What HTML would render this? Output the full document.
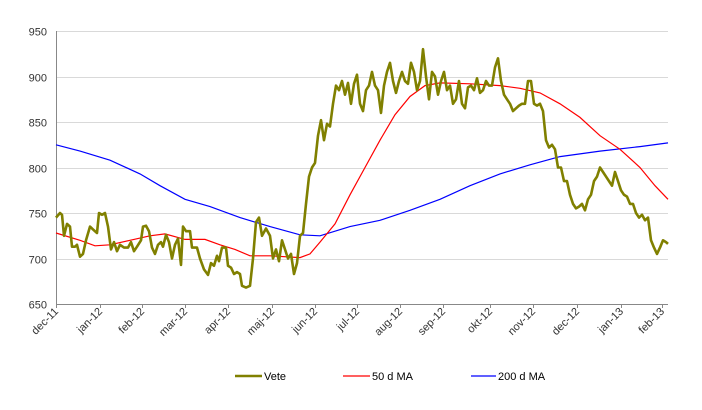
<!DOCTYPE html>
<html><head><meta charset="utf-8"><style>
body{margin:0;background:#fff;}
svg{display:block;font-family:"Liberation Sans",sans-serif;}
</style></head><body>
<svg id="s" width="702" height="410" xmlns="http://www.w3.org/2000/svg">
<g id="grid" stroke="#d9d9d9" stroke-width="1"></g>
<g id="ylab" font-size="11" fill="#333" text-anchor="end"></g>
<line x1="56.5" y1="31" x2="56.5" y2="304" stroke="#888"/>
<line x1="56" y1="304.5" x2="668" y2="304.5" stroke="#888"/>
<g id="xt" font-size="11" fill="#333"></g>
<polyline id="ma200" fill="none" stroke="#0000ff" stroke-width="1.2"/>
<polyline id="ma50" fill="none" stroke="#ff0000" stroke-width="1.2"/>
<polyline id="vete" fill="none" stroke="#808000" stroke-width="2.6" stroke-linejoin="round"/>
<line x1="235" y1="376" x2="262" y2="376" stroke="#808000" stroke-width="2.6"/>
<text x="264" y="380" font-size="11">Vete</text>
<line x1="343" y1="376" x2="370" y2="376" stroke="#ff0000" stroke-width="1.2"/>
<text x="372" y="380" font-size="11">50 d MA</text>
<line x1="471" y1="376" x2="496" y2="376" stroke="#0000ff" stroke-width="1.2"/>
<text x="498" y="380" font-size="11">200 d MA</text>
</svg>
<script>
function Y(v){return 304-(v-650)*0.91;}
var ns="http://www.w3.org/2000/svg";
function el(t,a,p,txt){var e=document.createElementNS(ns,t);for(var k in a)e.setAttribute(k,a[k]);if(txt)e.textContent=txt;document.getElementById(p).appendChild(e);}
for(var v=650;v<=950;v+=50){var y=Math.round(Y(v))+0.5;if(v>650)el('line',{x1:56,y1:y,x2:668,y2:y},'grid');el('text',{x:47,y:y+4},'ylab',''+v);}
var months=[[56,'dec-11'],[100,'jan-12'],[142,'feb-12'],[185,'mar-12'],[228,'apr-12'],[272,'maj-12'],[315,'jun-12'],[357,'jul-12'],[400,'aug-12'],[443,'sep-12'],[490,'okt-12'],[533,'nov-12'],[577,'dec-12'],[621,'jan-13'],[662,'feb-13']];
months.forEach(function(m){el('line',{x1:m[0]+.5,y1:304,x2:m[0]+.5,y2:308,stroke:'#888'},'xt');el('text',{x:m[0]+3,y:312,'text-anchor':'end',transform:'rotate(-45 '+(m[0]+3)+' 312)'},'xt',m[1]);});
function pts(a){var s=[];for(var i=0;i<a.length;i+=2)s.push(a[i]+','+Y(a[i+1]).toFixed(1));return s.join(' ');}
var vete=[56,745,60,750,62,748,64,725,67,738,70,735,72,713,75,713,77,715,80,702,83,705,86,720,90,735,93,732,97,728,99,750,102,748,105,750,108,735,111,710,114,718,117,708,120,715,124,712,128,712,131,718,134,708,137,713,141,720,143,735,146,736,149,730,152,712,155,705,158,715,161,718,163,713,166,726,169,718,172,700,175,715,178,722,181,693,183,735,186,730,190,730,192,712,197,712,200,700,204,688,208,682,211,695,214,692,217,703,219,697,222,712,226,712,228,692,231,690,234,683,237,685,240,683,242,670,246,668,250,670,253,700,256,740,259,745,262,725,266,733,270,725,273,700,276,710,279,697,282,720,285,710,288,700,291,705,294,683,297,695,300,725,303,728,306,760,309,790,312,800,315,805,318,835,321,852,324,830,327,848,330,845,333,870,336,890,339,885,342,895,345,880,348,893,351,870,354,892,357,902,360,870,363,862,366,885,369,890,372,905,375,890,378,885,381,860,384,890,387,905,390,915,393,895,396,882,399,895,402,905,405,895,408,892,411,915,414,905,417,885,420,895,423,930,426,900,429,875,432,905,435,900,438,880,441,895,444,905,447,885,450,890,453,870,456,875,459,895,462,870,465,865,468,888,471,890,474,885,477,898,480,882,483,885,486,895,489,890,492,890,495,910,498,920,501,895,504,880,507,875,510,870,513,862,516,865,519,868,522,870,525,870,528,895,531,895,534,870,537,868,540,870,543,862,546,830,549,822,552,825,555,820,558,800,561,800,564,785,567,785,570,770,573,760,576,755,579,757,582,760,585,753,588,765,591,770,594,785,597,790,600,800,603,795,606,790,609,785,612,780,615,795,618,785,621,775,624,770,627,768,630,760,633,760,636,750,639,745,642,748,645,742,648,745,651,720,654,712,657,705,660,712,663,720,666,718,668,716];
var ma50=[56,728,80,720,95,714,110,715,130,720,150,725,165,727,185,721,205,721,220,715,235,710,250,703,270,703,300,701,310,705,320,718,335,738,350,770,365,800,380,830,395,858,410,878,425,890,440,893,470,892,500,890,520,887,540,882,560,870,580,855,600,835,620,820,640,800,655,780,668,765];
var ma200=[56,825,80,818,110,808,140,793,160,780,185,765,210,757,240,745,270,735,300,726,320,725,350,735,380,742,410,753,440,765,470,780,500,793,530,803,560,812,600,818,640,823,668,827];
document.getElementById('vete').setAttribute('points',pts(vete));
document.getElementById('ma50').setAttribute('points',pts(ma50));
document.getElementById('ma200').setAttribute('points',pts(ma200));
</script>
</body></html>
